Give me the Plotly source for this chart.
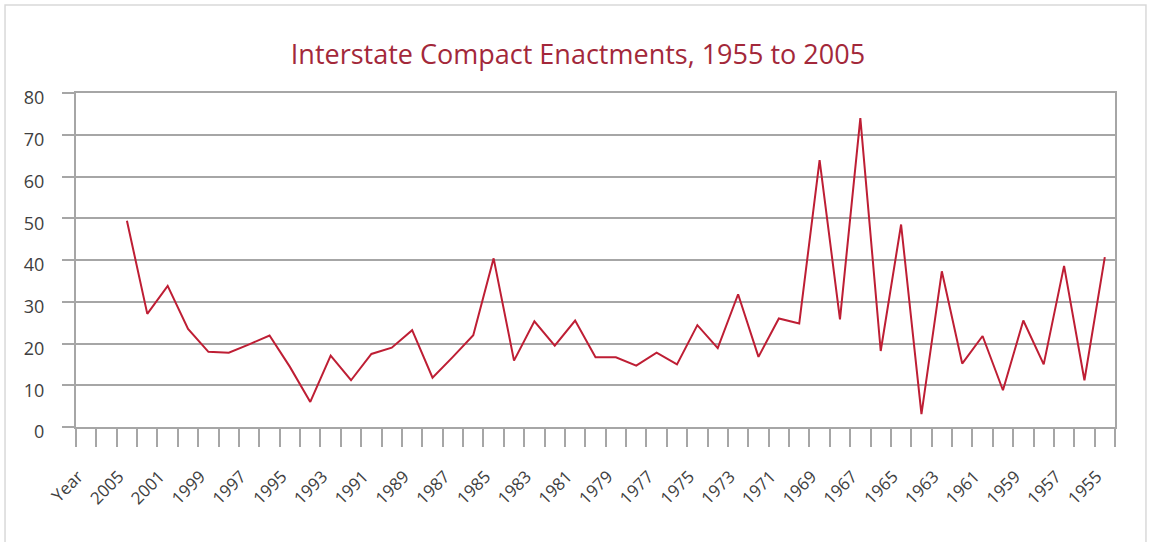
import plotly.graph_objects as go

# Category labels (first entry is the header cell "Year", second is an unlabeled slot)
categories = ["Year", "2006", "2005", "2002", "2001", "2000", "1999", "1998", "1997", "1996",
              "1995", "1994", "1993", "1992", "1991", "1990", "1989", "1988", "1987", "1986",
              "1985", "1984", "1983", "1982", "1981", "1980", "1979", "1978", "1977", "1976",
              "1975", "1974", "1973", "1972", "1971", "1970", "1969", "1968", "1967", "1966",
              "1965", "1964", "1963", "1962", "1961", "1960", "1959", "1958", "1957", "1956",
              "1955"]

enactments = [None, None, 49.4, 27.1, 33.8, 23.5, 18.0, 17.8, 19.8, 21.9,
              14.4, 6.0, 17.1, 11.2, 17.5, 19.0, 23.2, 11.8, 16.8, 22.0,
              40.4, 15.9, 25.3, 19.5, 25.5, 16.7, 16.7, 14.7, 17.8, 15.0,
              24.4, 18.9, 31.8, 16.8, 26.0, 24.8, 63.9, 25.8, 74.0, 18.2,
              48.5, 3.1, 37.3, 15.2, 21.8, 8.8, 25.5, 15.0, 38.6, 11.2,
              40.7]

y_ticks = [0, 10, 20, 30, 40, 50, 60, 70, 80]

FONT = "Open Sans"
GRID = "#a6a6a6"

fig = go.Figure()
fig.add_trace(go.Scatter(
    x=categories, y=enactments, mode="lines",
    line=dict(color="#be1e34", width=2),
    connectgaps=False, hoverinfo="x+y", showlegend=False,
))

fig.update_layout(
    width=1149, height=542,
    margin=dict(l=76, r=34, t=93, b=115),
    paper_bgcolor="white", plot_bgcolor="white",
    title=dict(text="Interstate Compact Enactments, 1955 to 2005",
               x=0.503, xanchor="center", y=0.9, yanchor="middle",
               font=dict(family=FONT, size=27, color="#a3283a")),
    font=dict(family=FONT, color="#404040"),
    shapes=[dict(type="rect", xref="paper", yref="paper",
                 x0=-0.0683, x1=1.0298, y0=-0.36, y1=1.2635,
                 line=dict(color="#d9d9d9", width=1.5), layer="below")],
)

fig.update_xaxes(
    type="category", categoryorder="array", categoryarray=categories,
    range=[-0.5, len(categories) - 0.5],
    tickson="boundaries", ticks="outside", ticklen=18, tickwidth=1.5, tickcolor=GRID,
    ticklabelstep=2, tickangle=-45, ticklabelstandoff=31, ticklabelshift=-8,
    tickfont=dict(family=FONT, size=17, color="#404040"),
    showgrid=False, showline=True, linecolor=GRID, linewidth=2, mirror=True,
    zeroline=False, fixedrange=True,
)
fig.update_yaxes(
    range=[0, 80], tickvals=y_ticks,
    ticks="outside", ticklen=12, tickwidth=1.5, tickcolor=GRID,
    ticklabelstandoff=14, ticklabelshift=5,
    tickfont=dict(family=FONT, size=18, color="#404040"),
    showgrid=True, gridcolor=GRID, gridwidth=1.5,
    showline=True, linecolor=GRID, linewidth=2, mirror=True,
    zeroline=False, fixedrange=True,
)

fig.write_html("out.html", config={"displayModeBar": False},
               post_script="document.body.style.margin='0';")
